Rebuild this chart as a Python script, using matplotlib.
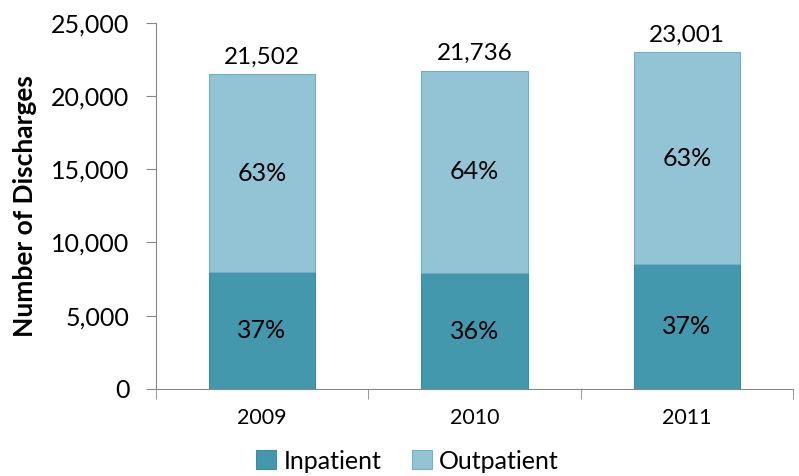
import numpy as np
import matplotlib.pyplot as plt
from matplotlib.ticker import FuncFormatter, FixedLocator

plt.rcParams['font.family'] = ['Lato', 'DejaVu Sans']

years = ['2009', '2010', '2011']
totals = [21502, 21736, 23001]
inpatient = [7956, 7900, 8510]
outpatient = [t - i for t, i in zip(totals, inpatient)]
in_pct = ['37%', '36%', '37%']
out_pct = ['63%', '64%', '63%']

c_in = '#4398ae'
c_out = '#93c4d6'

fig = plt.figure(figsize=(7.99, 4.76), dpi=100)
ax = fig.add_axes([0.195, 0.183, 0.7975, 0.769])

x = np.arange(len(years))
ax.bar(x, inpatient, width=0.5, color=c_in, edgecolor='#3a8ca1', linewidth=0.8, label='Inpatient')
ax.bar(x, outpatient, width=0.5, bottom=inpatient, color=c_out, edgecolor='#6fb0c4', linewidth=0.8, label='Outpatient')

for i in range(len(years)):
    ax.text(x[i], inpatient[i] / 2, in_pct[i], ha='center', va='center', fontsize=18)
    ax.text(x[i], inpatient[i] + outpatient[i] / 2, out_pct[i], ha='center', va='center', fontsize=18)
    ax.text(x[i], totals[i] + 450, f'{totals[i]:,}', ha='center', va='bottom', fontsize=17.5)

ax.set_xlim(-0.5, 2.5)
ax.set_ylim(0, 25000)
ax.set_yticks(np.arange(0, 25001, 5000))
ax.yaxis.set_major_formatter(FuncFormatter(lambda v, p: f'{int(v):,}'))
ax.tick_params(axis='y', labelsize=18, length=7, color='#888888', pad=12)

ax.set_xticks(x)
ax.set_xticklabels(years)
ax.xaxis.set_minor_locator(FixedLocator([-0.5, 0.5, 1.5, 2.5]))
ax.tick_params(axis='x', which='major', length=0, labelsize=15.5, pad=14)
ax.tick_params(axis='x', which='minor', length=7, color='#888888')

for s in ['top', 'right']:
    ax.spines[s].set_visible(False)
ax.spines['left'].set_color('#888888')
ax.spines['bottom'].set_color('#888888')

ax.set_ylabel('Number of Discharges', fontsize=19, fontweight='bold', labelpad=10)

fig.legend(loc='lower center', bbox_to_anchor=(0.51, -0.04), ncol=2, frameon=False,
           fontsize=18, handlelength=0.8, handleheight=0.8, handletextpad=0.3, columnspacing=1.2)

fig.savefig('out.png', dpi=100)
